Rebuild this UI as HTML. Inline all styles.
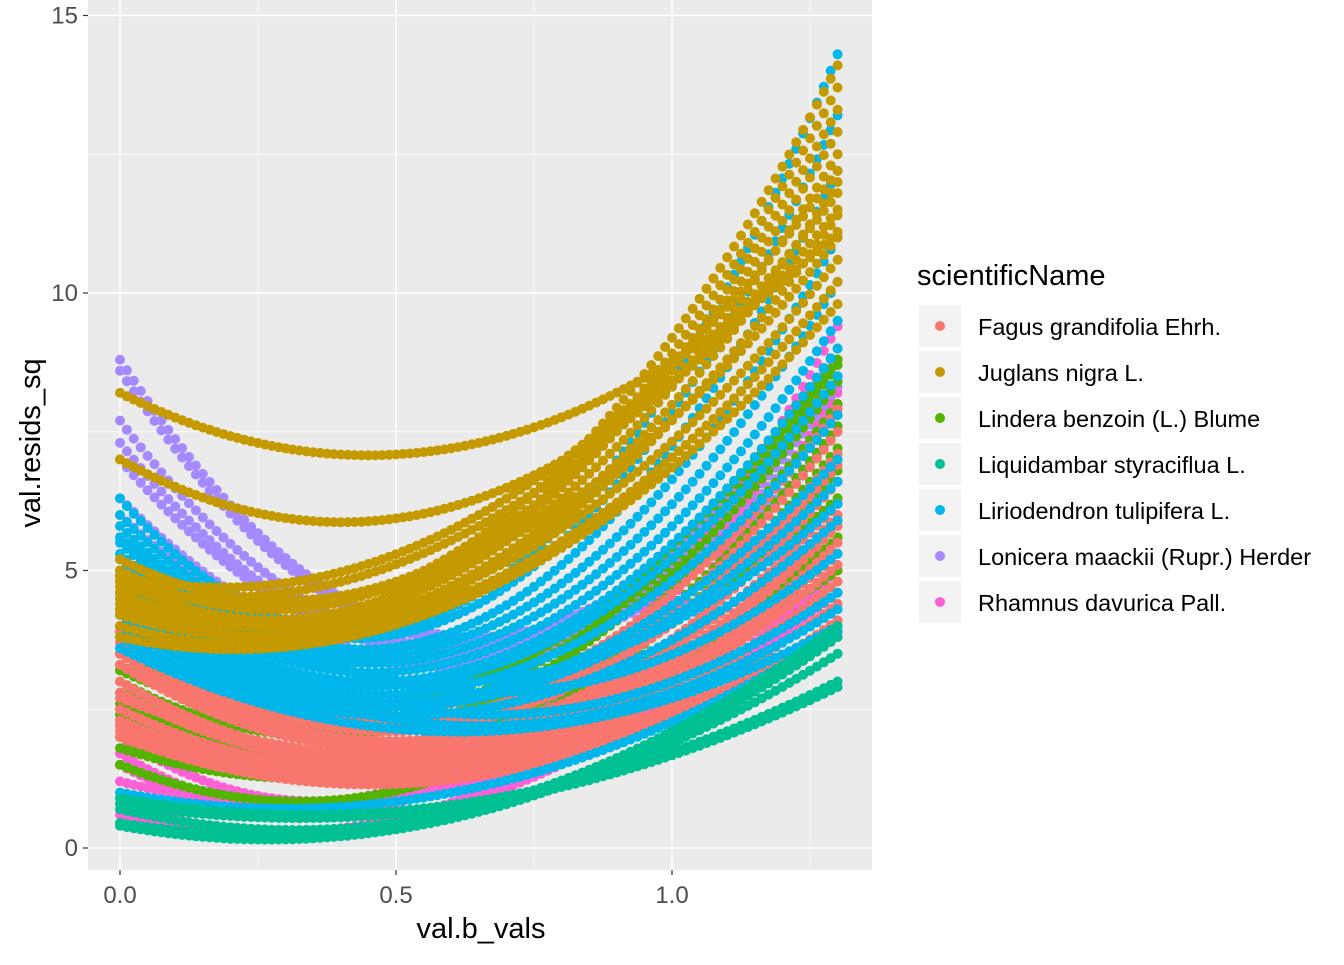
<!DOCTYPE html>
<html><head><meta charset="utf-8"><style>
body{margin:0;background:#fff;font-family:"Liberation Sans",sans-serif;}
svg text{font-family:"Liberation Sans",sans-serif;}
</style></head><body>
<svg id="chart" width="1344" height="960" xmlns="http://www.w3.org/2000/svg">
<rect x="0" y="0" width="1344" height="960" fill="#fff"/>
<g id="panel"></g>
<g id="legend"></g>
</svg>
<script>
// Curves per species: [y at x=0, y at x=0.65, y at x=1.3]
const species = ["Fagus grandifolia Ehrh.","Juglans nigra L.","Lindera benzoin (L.) Blume","Liquidambar styraciflua L.","Liriodendron tulipifera L.","Lonicera maackii (Rupr.) Herder","Rhamnus davurica Pall."];
const colors = ["#F8766D","#C49A00","#53B400","#00C094","#00B6EB","#A58AFF","#FB61D7"];
const lavenderCurves = [[8.8,3.8,9.0],[8.6,3.7,8.8],[7.7,3.6,8.5],[7.3,3.5,8.3],[7.0,3.5,8.0],[6.3,3.4,7.8],[6.0,3.3,7.5]];
const magentaCurves = [[2.0,1.7,9.4],[1.7,1.5,8.8],[1.5,1.4,8.2],[0.8,1.0,6.0],[0.6,0.9,5.0],[1.2,1.2,4.6]];
const greenCurves = [[3.5,3.0,9.0],[3.3,2.8,8.7],[3.0,2.6,8.4],[2.6,2.3,8.0],[2.4,2.1,7.6],[2.0,1.9,7.2],[1.5,1.5,6.8],[3.2,3.1,8.8],[2.8,2.5,6.3],[1.8,1.7,5.6],[2.2,2.0,5.0]];
const redCurves = [[4.9,2.7,7.9],[4.6,2.5,7.5],[3.9,2.3,7.1],[3.7,2.1,6.6],[3.3,2.0,6.2],[3.0,1.8,5.8],[2.8,1.7,5.5],[2.5,1.6,5.1],[2.3,1.5,4.8],[2.1,1.4,4.4],[2.0,1.3,4.1],[3.5,1.9,6.0],[2.7,1.7,3.9],[2.2,1.6,5.3],[4.2,2.4,6.9]];
const blueCurves = [[6.3,4.6,14.3],[6.0,4.4,13.2],[5.8,4.1,12.2],[5.5,3.9,11.0],[5.3,3.7,10.2],[5.0,3.5,9.5],[4.8,3.3,9.0],[4.6,3.2,8.5],[4.4,3.0,7.8],[4.2,2.8,7.0],[4.0,2.7,6.6],[3.8,2.5,5.9],[5.6,2.8,5.3],[4.9,2.4,4.6],[4.3,2.2,4.3],[3.6,2.1,4.0],[5.2,3.0,6.2],[1.0,1.1,3.9]];
const tealCurves = [[0.9,0.85,3.0],[0.8,0.8,2.9],[0.4,0.65,3.8],[0.7,0.75,4.0],[0.45,0.7,3.5]];
const goldCurves = [[8.2,7.3,11.1],[7.0,6.3,11.5],[5.0,5.6,14.1],[4.8,5.4,13.7],[4.6,5.3,13.3],[5.2,5.5,12.9],[4.5,5.2,12.5],[4.3,5.0,12.0],[4.0,4.9,11.4],[4.8,5.3,11.0],[4.4,4.9,10.6],[4.2,4.7,10.2],[3.8,4.6,9.8],[4.9,6.0,12.2],[4.7,5.8,11.8]];
const xTicks = [0.0,0.5,1.0];
const xTickLabels = ["0.0","0.5","1.0"];
const yTicks = [0,5,10,15];
const yTickLabels = ["0","5","10","15"];

const NS="http://www.w3.org/2000/svg";
const PL=88,PR=872,PT=0,PB=870;
const sx=v=>120+v*552;
const sy=v=>848-v*55.5;
const panel=document.getElementById('panel');
function mk(tag,attrs,parent){const e=document.createElementNS(NS,tag);for(const k in attrs)e.setAttribute(k,attrs[k]);parent.appendChild(e);return e;}
const bg=mk('rect',{x:PL,y:PT,width:PR-PL,height:PB-PT,fill:'#EBEBEB'},panel);


[0.25,0.75,1.25].forEach(v=>{const l=mk('line',{x1:sx(v),x2:sx(v),y1:PT,y2:PB,stroke:'#fff','stroke-width':0.7},panel);

});
[2.5,7.5,12.5].forEach(v=>{const l=mk('line',{x1:PL,x2:PR,y1:sy(v),y2:sy(v),stroke:'#fff','stroke-width':0.7},panel);

});
xTicks.forEach((v,i)=>{const l=mk('line',{x1:sx(v),x2:sx(v),y1:PT,y2:PB,stroke:'#fff','stroke-width':1.4},panel);


const t=mk('line',{x1:sx(v),x2:sx(v),y1:PB,y2:PB+5,stroke:'#333','stroke-width':1.2},panel);


const tx=mk('text',{x:sx(v),y:903,'text-anchor':'middle','font-size':24,fill:'#4D4D4D'},panel);tx.textContent=xTickLabels[i];

});
yTicks.forEach((v,i)=>{const l=mk('line',{x1:PL,x2:PR,y1:sy(v),y2:sy(v),stroke:'#fff','stroke-width':1.4},panel);


const t=mk('line',{x1:PL-5,x2:PL,y1:sy(v),y2:sy(v),stroke:'#333','stroke-width':1.2},panel);


const tx=mk('text',{x:78,y:sy(v)+8,'text-anchor':'end','font-size':24,fill:'#4D4D4D'},panel);tx.textContent=yTickLabels[i];

});
const groups=[[lavenderCurves,5],[magentaCurves,6],[greenCurves,2],[redCurves,0],[blueCurves,4],[tealCurves,3],[goldCurves,1]];
groups.forEach(([curves,ci])=>{
 const g=mk('g',{fill:colors[ci]},panel);
 
 
 curves.forEach(c=>{
  const [a,m,e]=c;
  for(let i=0;i<=104;i++){const x=i*1.3/104;const t=x/1.3;
   const y=a*(1-t)*(1-2*t)+m*4*t*(1-t)+e*t*(2*t-1);
   const p=mk('circle',{cx:sx(x).toFixed(1),cy:sy(y).toFixed(1),r:5},g);
   
   }
 });
});
const xt=mk('text',{x:481,y:938,'text-anchor':'middle','font-size':29,fill:'#000'},panel);xt.textContent='val.b_vals';


const yt=mk('text',{x:0,y:0,'text-anchor':'middle','font-size':29,fill:'#000',transform:'translate(40,443) rotate(-90)'},panel);yt.textContent='val.resids_sq';


const leg=document.getElementById('legend');
const lt=mk('text',{x:917,y:285,'font-size':29,fill:'#000'},leg);lt.textContent='scientificName';


species.forEach((s,i)=>{const y=305+i*46;
 const k=mk('rect',{x:919,y:y,width:42,height:42,fill:'#F2F2F2'},leg);
 
 
 const c=mk('circle',{cx:940,cy:y+21,r:5,fill:colors[i]},leg);
 
 
 const t=mk('text',{x:978,y:y+30,'font-size':23.5,fill:'#000'},leg);t.textContent=s;
 
 });
</script>
</body></html>
